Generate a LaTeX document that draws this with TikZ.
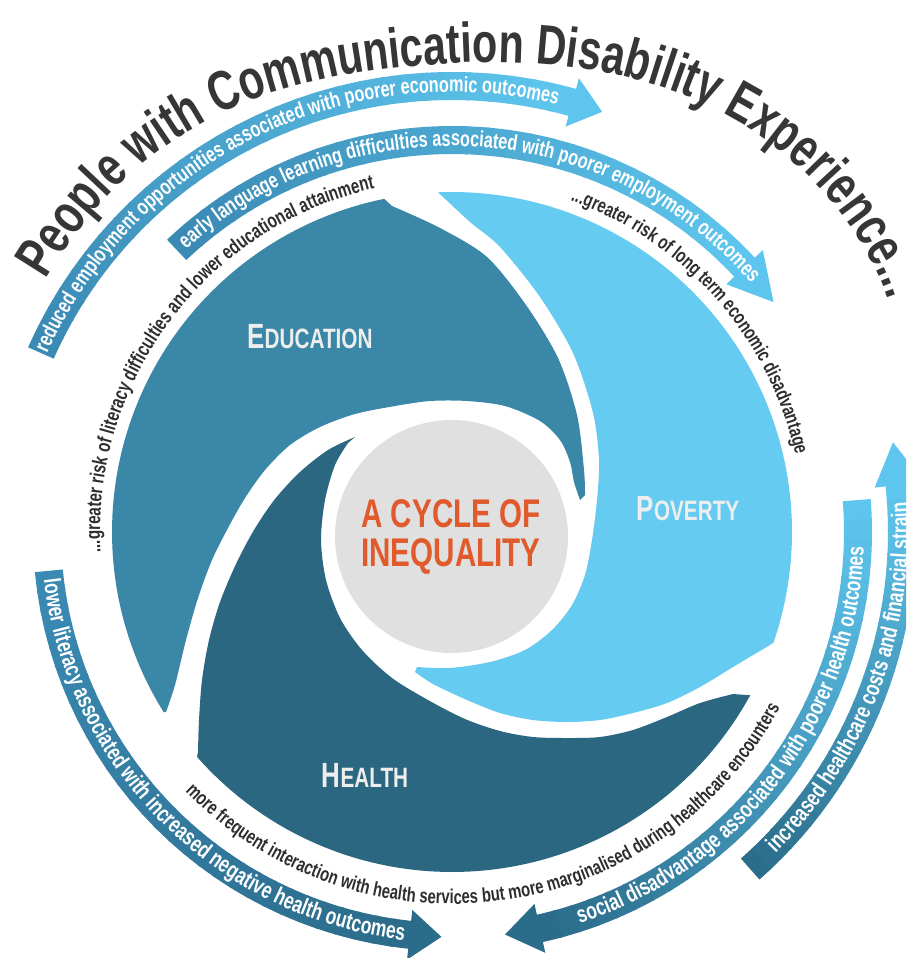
\documentclass[tikz,border=0pt]{standalone}
\usepackage{fontspec}
\setmainfont{Liberation Sans}
\newfontfamily\cf[FakeStretch=0.74]{Liberation Sans}
\usetikzlibrary{decorations.text}
\definecolor{edu}{HTML}{3A87A8}
\definecolor{pov}{HTML}{66CBF0}
\definecolor{hea}{HTML}{2B6780}
\definecolor{circ}{HTML}{E0E0E0}
\definecolor{ttl}{HTML}{363636}
\definecolor{org}{HTML}{E05A2B}
\definecolor{lblc}{HTML}{EEEEEE}
\definecolor{bmid}{HTML}{3A8AB4}
\definecolor{blight}{HTML}{5EC6EE}
\definecolor{bdark}{HTML}{2B6C8A}
\definecolor{txtc}{HTML}{2E2E2E}
% #1 radius, #2 start angle, #3 base angle, #4 tip angle, #5 start colour, #6 end colour, #7 centre y
\newcommand{\myband}[7]{%
  \foreach \i in {0,...,29}{%
    \pgfmathsetmacro{\bA}{#2+(#3-#2)*\i/30}%
    \pgfmathsetmacro{\bB}{#2+(#3-#2)*(\i+1.15)/30}%
    \pgfmathsetmacro{\bP}{100*\i/29}%
    \fill[#6!\bP!#5] plot[domain=\bA:\bB, samples=5, variable=\t] ({452+(#1+14)*cos(\t)},{#7+(#1+14)*sin(\t)}) -- plot[domain=\bB:\bA, samples=5, variable=\t] ({452+(#1-14)*cos(\t)},{#7+(#1-14)*sin(\t)}) -- cycle;
  }%
  \fill[#6] ({452+(#1+25)*cos(#3)},{#7+(#1+25)*sin(#3)}) -- ({452+#1*cos(#4)},{#7+#1*sin(#4)}) -- ({452+(#1-25)*cos(#3)},{#7+(#1-25)*sin(#3)}) -- cycle;
}
\tikzset{
  lbl/.style={text=lblc, font=\cf\bfseries, inner sep=0pt, anchor=base},
  cyc/.style={text=org, font=\cf\bfseries\fontsize{40}{40}\selectfont, inner sep=0pt, anchor=base},
}
\begin{document}
\begin{tikzpicture}[x=1pt,y=-1pt]
\useasboundingbox (0,0) rectangle (906,958);
\clip (0,0) rectangle (906,958);
\fill[white] (0,0) rectangle (906,958);
% ---------- blades ----------
\fill[edu] plot[domain=148:258.5, samples=80, variable=\t] ({452+340*cos(\t)},{532+340*sin(\t)})
  -- plot[smooth] coordinates {(392,206) (440,228) (487,257) (526,305) (558,358) (577,415) (584,470) (585,495)}
  -- plot[smooth] coordinates {(580,500) (574,482) (570,462) (560,440) (540,421) (505,406) (467,401) (430,401) (395,406) (355,414) (320,427) (290,445) (265,470) (245,498) (228,528) (212,560) (198,598) (186,640) (175,685) (166,712)} -- cycle;
\fill[pov] plot[domain=267.6:379, samples=80, variable=\t] ({452+340*cos(\t)},{532+340*sin(\t)})
  -- plot[smooth] coordinates {(765,648) (733,667) (700,687) (667,703) (633,713) (600,720) (567,722) (533,720) (500,713) (467,700) (433,684) (415,672)}
  -- plot[smooth] coordinates {(417,667) (450,668) (490,662) (525,650) (552,630) (572,605) (585,575) (592,540) (597,500) (599,460) (593,413) (573,353) (540,297) (500,247) (470,222) (442,196)} -- cycle;
\fill[hea] plot[smooth] coordinates {(355,437) (328,450) (300,472) (275,499) (254,530) (236,564) (220,602) (209,640) (202,680) (199,720) (198,752)}
  -- plot[domain=138.6:28.7, samples=80, variable=\t] ({452+340*cos(\t)},{532+340*sin(\t)})
  -- plot[smooth] coordinates {(733,694) (700,703) (667,717) (633,730) (600,737) (567,738) (533,737) (500,731) (465,719) (428,700) (392,678) (362,650) (340,618) (326,580) (321,540) (325,500) (335,465) (348,443)} -- cycle;
\fill[circ] (451.5,536.5) circle[radius=116.5pt];
% ---------- labels ----------
\node[lbl] (edu) at (310,348) {\fontsize{35}{35}\selectfont E\fontsize{28}{28}\selectfont DUCATION};
\node[lbl] (pov) at (688,520) {\fontsize{35}{35}\selectfont P\fontsize{28}{28}\selectfont OVERTY};
\node[lbl] (hea) at (365,787) {\fontsize{35}{35}\selectfont H\fontsize{28}{28}\selectfont EALTH};
\node[cyc] (c1) at (451,527) {A CYCLE OF};
\node[cyc] (c2) at (451,566) {INEQUALITY};
% ---------- arrows ----------
\myband{450}{204}{285.5}{289.5}{bmid}{blight}{536}
\myband{400}{226.5}{317}{323.5}{bmid}{blight}{540}
\myband{405}{174.5}{96}{91.5}{bmid}{bdark}{532}
\myband{406}{-4.5}{77.5}{82.5}{blight}{bdark}{532}
\myband{450}{48.5}{-6}{-11.5}{bdark}{blight}{532}
% ---------- arrow texts ----------
\path[decorate, decoration={text along path, text align=center, text color=white, text={|\cf\bfseries\fontsize{22}{22}\selectfont|reduced employment opportunities associated with poorer economic outcomes}}]
  plot[domain=196:292, samples=120, variable=\t] ({452+444*cos(\t)},{536+444*sin(\t)});
\path[decorate, decoration={text along path, text align=center, text color=white, text={|\cf\bfseries\fontsize{22}{22}\selectfont|early language learning difficulties associated with poorer employment outcomes}}]
  plot[domain=222:325, samples=120, variable=\t] ({452+394*cos(\t)},{540+394*sin(\t)});
\path[decorate, decoration={text along path, text align=center, text color=white, text={|\cf\bfseries\fontsize{23.5}{23.5}\selectfont|lower literacy associated with increased negative health outcomes}}]
  plot[domain=182:88, samples=120, variable=\t] ({452+411*cos(\t)},{532+411*sin(\t)});
\path[decorate, decoration={text along path, text align=center, text color=white, text={|\cf\bfseries\fontsize{23.5}{23.5}\selectfont|social disadvantage associated with poorer health outcomes}}]
  plot[domain=78:-4, samples=120, variable=\t] ({452+412*cos(\t)},{532+412*sin(\t)});
\path[decorate, decoration={text along path, text align=center, text color=white, text={|\cf\bfseries\fontsize{23.5}{23.5}\selectfont|increased healthcare costs and financial strain}}]
  plot[domain=50:-9, samples=120, variable=\t] ({452+456*cos(\t)},{532+456*sin(\t)});
% ---------- dark texts ----------
\path[decorate, decoration={text along path, text align=center, text color=txtc, text={|\cf\bfseries\fontsize{20.5}{20.5}\selectfont|...greater risk of literacy difficulties and lower educational attainment}}]
  plot[domain=167:267, samples=120, variable=\t] ({452+352*cos(\t)},{532+352*sin(\t)});
\path[decorate, decoration={text along path, text align=center, text color=txtc, text={|\cf\bfseries\fontsize{20}{20}\selectfont|...greater risk of long term economic disadvantage}}]
  plot[domain=280:357, samples=120, variable=\t] ({452+352*cos(\t)},{532+352*sin(\t)});
\path[decorate, decoration={text along path, text align=center, text color=txtc, text={|\cf\bfseries\fontsize{20}{20}\selectfont|more frequent interaction with health services but more marginalised during healthcare encounters}}]
  plot[domain=145:19, samples=150, variable=\t] ({452+372*cos(\t)},{532+372*sin(\t)});
% ---------- title ----------
\path[decorate, decoration={text along path, text align=left, text color=ttl, text={|\cf\bfseries\fontsize{56}{56}\selectfont|People with Communication Disability Experience...}}]
  plot[smooth] coordinates {(46,280) (76,234) (113,190) (158,152) (212,118) (275,92) (344,75) (414,66) (484,62) (554,65) (624,76) (689,97) (747,127) (799,167) (844,217) (878,273) (900,335) (915,390)};
\end{tikzpicture}
\end{document}
